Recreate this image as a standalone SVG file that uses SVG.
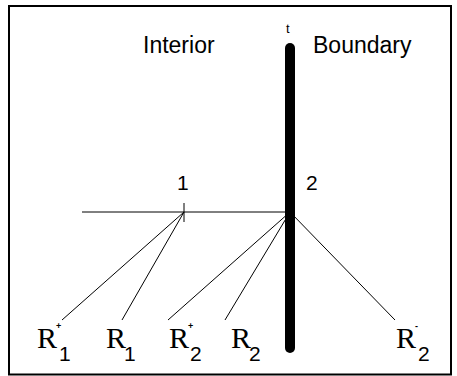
<svg xmlns="http://www.w3.org/2000/svg" width="457" height="376" viewBox="0 0 457 376">
<style>
.sans{font-family:"Liberation Sans",Arial,sans-serif;fill:#000}
.serif{font-family:"Liberation Serif","Times New Roman",serif;fill:#000}
.sup{font-family:"Liberation Sans",Arial,sans-serif;fill:#000;font-size:9px;font-weight:bold}
.thin{stroke:#000;stroke-width:1;fill:none}
</style>
<rect x="0" y="0" width="457" height="376" fill="#fff"/>
<rect x="9" y="6" width="442" height="368.5" fill="none" stroke="#000" stroke-width="2"/>
<g id="labels">
<text class="sans" x="143" y="53" font-size="23">Interior</text>
<text class="sans" x="313" y="53" font-size="23">Boundary</text>
<text class="sans" x="286" y="33" font-size="13">t</text>
</g>
<g id="boundary">
<line x1="290" y1="48" x2="290" y2="348" stroke="#000" stroke-width="10" stroke-linecap="round"/>
</g>
<g id="connectors">
<line class="thin" x1="82" y1="212" x2="290" y2="212"/>
<line class="thin" x1="184" y1="203" x2="184" y2="222"/>
<line class="thin" x1="184" y1="212" x2="62" y2="320"/>
<line class="thin" x1="184" y1="212" x2="122" y2="320"/>
<line class="thin" x1="290" y1="212" x2="168" y2="320"/>
<line class="thin" x1="290" y1="212" x2="225" y2="320"/>
<line class="thin" x1="290" y1="212" x2="395" y2="320"/>
</g>
<g id="point1"><text class="sans" x="177" y="190" font-size="21">1</text></g>
<g id="point2"><text class="sans" x="306" y="190" font-size="21">2</text></g>
<g id="R1plus">
<text class="serif" x="37" y="348" font-size="30">R</text>
<text class="sup" x="56" y="329">+</text>
<text class="sans" x="59" y="361" font-size="21">1</text>
</g>
<g id="R1">
<text class="serif" x="106" y="348" font-size="30">R</text>
<text class="sans" x="124" y="361" font-size="21">1</text>
</g>
<g id="R2plus">
<text class="serif" x="169" y="348" font-size="30">R</text>
<text class="sup" x="188" y="329">+</text>
<text class="sans" x="190" y="361" font-size="21">2</text>
</g>
<g id="R2">
<text class="serif" x="231" y="348" font-size="30">R</text>
<text class="sans" x="249" y="361" font-size="21">2</text>
</g>
<g id="R2minus">
<text class="serif" x="396" y="348" font-size="30">R</text>
<text class="sup" x="415" y="329">-</text>
<text class="sans" x="418" y="361" font-size="21">2</text>
</g>
</svg>
